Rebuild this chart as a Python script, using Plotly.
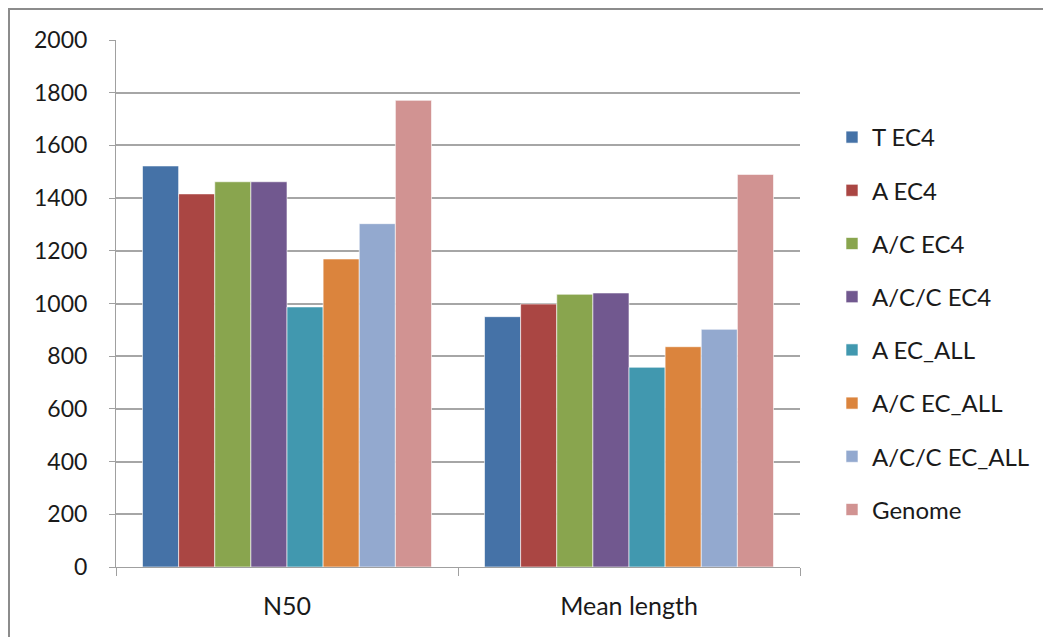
import plotly.graph_objects as go

categories = ["N50", "Mean length"]
series_names = ["T EC4", "A EC4", "A/C EC4", "A/C/C EC4", "A EC_ALL", "A/C EC_ALL", "A/C/C EC_ALL", "Genome"]
series_values = [
    [1522, 950],
    [1416, 998],
    [1462, 1035],
    [1462, 1040],
    [987, 758],
    [1169, 836],
    [1303, 902],
    [1771, 1490],
]
colors = ["#4572A7", "#AA4643", "#89A54E", "#71588F", "#4198AF", "#DB843D", "#93A9CF", "#D19392"]
y_ticks = [0, 200, 400, 600, 800, 1000, 1200, 1400, 1600, 1800, 2000]

# page body has an 8px margin, so figure coords = page coords - 8
W, H = 1051, 637
L, R, T, B = 108, 259, 32, 78
pw, ph = W - L - R, H - T - B
plot_bottom = H - B


def px_x(fx):
    return (fx - L) / pw


def px_y(fy):
    return (plot_bottom - fy) / ph


fig = go.Figure()
for name, vals, col in zip(series_names, series_values, colors):
    fig.add_trace(go.Bar(
        name=name, x=categories, y=vals,
        marker=dict(color=col, line=dict(color="rgba(255,255,255,0.6)", width=1)),
        legendgroup=name,
    ))

font_family = "Lato, 'Open Sans', sans-serif"
fig.update_layout(
    width=W, height=H,
    margin=dict(l=L, r=R, t=T, b=B, autoexpand=False),
    paper_bgcolor="white", plot_bgcolor="white",
    barmode="group", bargap=0.155, bargroupgap=0,
    font=dict(family=font_family, size=21, color="#1a1a1a"),
    showlegend=True,
    legend=dict(
        x=px_x(824), y=px_y(107), xanchor="left", yanchor="top",
        font=dict(size=24, color="#1a1a1a"),
        tracegroupgap=19, itemwidth=30,
        bgcolor="rgba(0,0,0,0)",
    ),
    xaxis=dict(
        type="category", showline=True, linecolor="#A0A0A0", linewidth=1,
        ticks="outside", tickson="boundaries", ticklen=8, tickcolor="#A0A0A0",
        showgrid=False, tickfont=dict(size=25), ticklabelstandoff=17,
    ),
    yaxis=dict(
        range=[0, 2000], tickvals=y_ticks, showline=True, linecolor="#A0A0A0",
        linewidth=1, ticks="outside", ticklen=6, tickcolor="#A0A0A0",
        showgrid=True, gridcolor="#A6A6A6", gridwidth=1.5,
        tickfont=dict(size=23), zeroline=False, ticklabelstandoff=17,
    ),
    shapes=[
        dict(type="line", xref="paper", yref="paper",
             x0=px_x(0), x1=px_x(W), y0=px_y(1), y1=px_y(1),
             line=dict(color="#8C8C8C", width=2), layer="below"),
        dict(type="line", xref="paper", yref="paper",
             x0=px_x(1), x1=px_x(1), y0=px_y(0), y1=px_y(H),
             line=dict(color="#8C8C8C", width=2), layer="below"),
    ],
)

fig.write_html("out.html")
